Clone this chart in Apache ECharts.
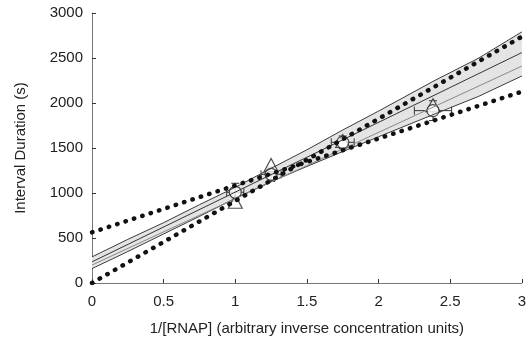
<!DOCTYPE html>
<html>
<head>
<meta charset="utf-8">
<script src="https://cdn.jsdelivr.net/npm/echarts@6/dist/echarts.min.js"></script>
<style>
  html, body { margin: 0; padding: 0; background: #fff; }
  #chart { width: 529px; height: 343px; }
</style>
</head>
<body>
<div id="chart"></div>
<script>
// band (confidence region)
const bandX = [0, 0.25, 0.5, 0.75, 1, 1.25, 1.5, 1.75, 2, 2.38, 2.7, 3];
const bandLower = [160, 350, 545, 740, 941, 1126, 1295, 1460, 1625, 1870, 2075, 2300];
const bandUpper = [290, 485, 670, 870, 1063, 1274, 1480, 1700, 1910, 2240, 2500, 2790];

// fitted lines inside the band
const fitX = [0, 3];
const fitDark = [235, 2560];
const fitGray = [200, 2410];

// dotted bounding lines
const dotAX = [0, 3];
const dotAY = [563, 2126];
const dotBX = [0, 3];
const dotBY = [0, 2737];

// measured points
const circleX = [1, 1.25, 1.75, 2.38];
const circleY = [1008, 1208, 1563, 1915];
const circleXErr = [0.06, 0.07, 0.08, 0.13];
const circleYErr = [100, 80, 70, 110];
const triX = [1, 1.25, 1.75, 2.38];
const triY = [903, 1310, 1578, 1975];

const xTicks = { min: 0, max: 3, interval: 0.5 };
const yTicks = { min: 0, max: 3000, interval: 500 };

const chart = echarts.init(document.getElementById('chart'), null, { renderer: 'canvas' });

const pairs = (xs, ys) => xs.map((x, i) => [x, ys[i]]);
const edgeColor = '#3a3a3a';
const font = 'Liberation Sans';

const errData = circleX.map((x, i) => [x, circleY[i], circleXErr[i], circleYErr[i]]);
// one row per band sample: x, lower, upper
const bandData = bandX.map((x, i) => [x, bandLower[i], bandUpper[i]]);

const option = {
  animation: false,
  grid: { left: 92, right: 7, top: 13, bottom: 60 },
  xAxis: {
    type: 'value',
    min: xTicks.min, max: xTicks.max, interval: xTicks.interval,
    name: '1/[RNAP] (arbitrary inverse concentration units)',
    nameLocation: 'middle', nameGap: 38,
    nameTextStyle: { fontFamily: font, fontSize: 15, color: '#222' },
    axisLine: { lineStyle: { color: '#777', width: 1 } },
    axisTick: { inside: true, length: 4, lineStyle: { color: '#333' } },
    axisLabel: { fontFamily: font, fontSize: 15, color: '#222', margin: 11, formatter: v => String(v) },
    splitLine: { show: false }
  },
  yAxis: {
    type: 'value',
    min: yTicks.min, max: yTicks.max, interval: yTicks.interval,
    name: 'Interval Duration (s)',
    nameLocation: 'middle', nameGap: 64,
    nameTextStyle: { fontFamily: font, fontSize: 15, color: '#222' },
    axisLine: { show: true, lineStyle: { color: '#777', width: 1 } },
    axisTick: { show: true, inside: true, length: 4, lineStyle: { color: '#333' } },
    axisLabel: { fontFamily: font, fontSize: 15, color: '#222', margin: 9, formatter: v => String(v) },
    splitLine: { show: false }
  },
  series: [
    {
      // shaded band drawn as one polygon
      type: 'custom',
      silent: true,
      data: [0],
      encode: { x: [], y: [] },
      renderItem: function (params, api) {
        const top = bandData.map(d => api.coord([d[0], d[2]]));
        const bottom = bandData.map(d => api.coord([d[0], d[1]])).reverse();
        return {
          type: 'polygon',
          shape: { points: top.concat(bottom) },
          style: { fill: '#e4e4e4', stroke: null }
        };
      }
    },
    {
      type: 'line', symbol: 'none', data: pairs(bandX, bandUpper),
      lineStyle: { color: edgeColor, width: 1 }
    },
    {
      type: 'line', symbol: 'none', data: pairs(bandX, bandLower),
      lineStyle: { color: edgeColor, width: 1 }
    },
    {
      type: 'line', symbol: 'none', data: pairs(fitX, fitDark),
      lineStyle: { color: '#333', width: 1 }
    },
    {
      type: 'line', symbol: 'none', data: pairs(fitX, fitGray),
      lineStyle: { color: '#888', width: 1 }
    },
    {
      type: 'line', symbol: 'none', data: pairs(dotAX, dotAY),
      lineStyle: { color: '#111', width: 4.5, type: [0.5, 8.3], cap: 'round' }
    },
    {
      type: 'line', symbol: 'none', data: pairs(dotBX, dotBY),
      lineStyle: { color: '#111', width: 4.5, type: [0.5, 8.3], cap: 'round' }
    },
    {
      type: 'custom',
      data: errData,
      renderItem: function (params, api) {
        const x = api.value(0), y = api.value(1), ex = api.value(2), ey = api.value(3);
        const l = api.coord([x - ex, y]);
        const r = api.coord([x + ex, y]);
        const t = api.coord([x, y + ey]);
        const b = api.coord([x, y - ey]);
        const c = 4;
        const style = { stroke: '#333', lineWidth: 1 };
        return {
          type: 'group',
          children: [
            { type: 'line', shape: { x1: l[0], y1: l[1], x2: r[0], y2: r[1] }, style },
            { type: 'line', shape: { x1: l[0], y1: l[1] - c, x2: l[0], y2: l[1] + c }, style },
            { type: 'line', shape: { x1: r[0], y1: r[1] - c, x2: r[0], y2: r[1] + c }, style },
            { type: 'line', shape: { x1: t[0], y1: t[1], x2: b[0], y2: b[1] }, style },
            { type: 'line', shape: { x1: t[0] - c, y1: t[1], x2: t[0] + c, y2: t[1] }, style },
            { type: 'line', shape: { x1: b[0] - c, y1: b[1], x2: b[0] + c, y2: b[1] }, style }
          ]
        };
      }
    },
    {
      type: 'scatter', symbol: 'triangle', symbolSize: [14, 13],
      data: pairs(triX, triY),
      itemStyle: { color: '#fff', borderColor: '#222', borderWidth: 1.2 }
    },
    {
      type: 'scatter', symbol: 'circle', symbolSize: 12,
      data: pairs(circleX, circleY),
      itemStyle: { color: '#fff', borderColor: '#222', borderWidth: 1.2 }
    }
  ]
};

chart.setOption(option);
</script>
</body>
</html>
